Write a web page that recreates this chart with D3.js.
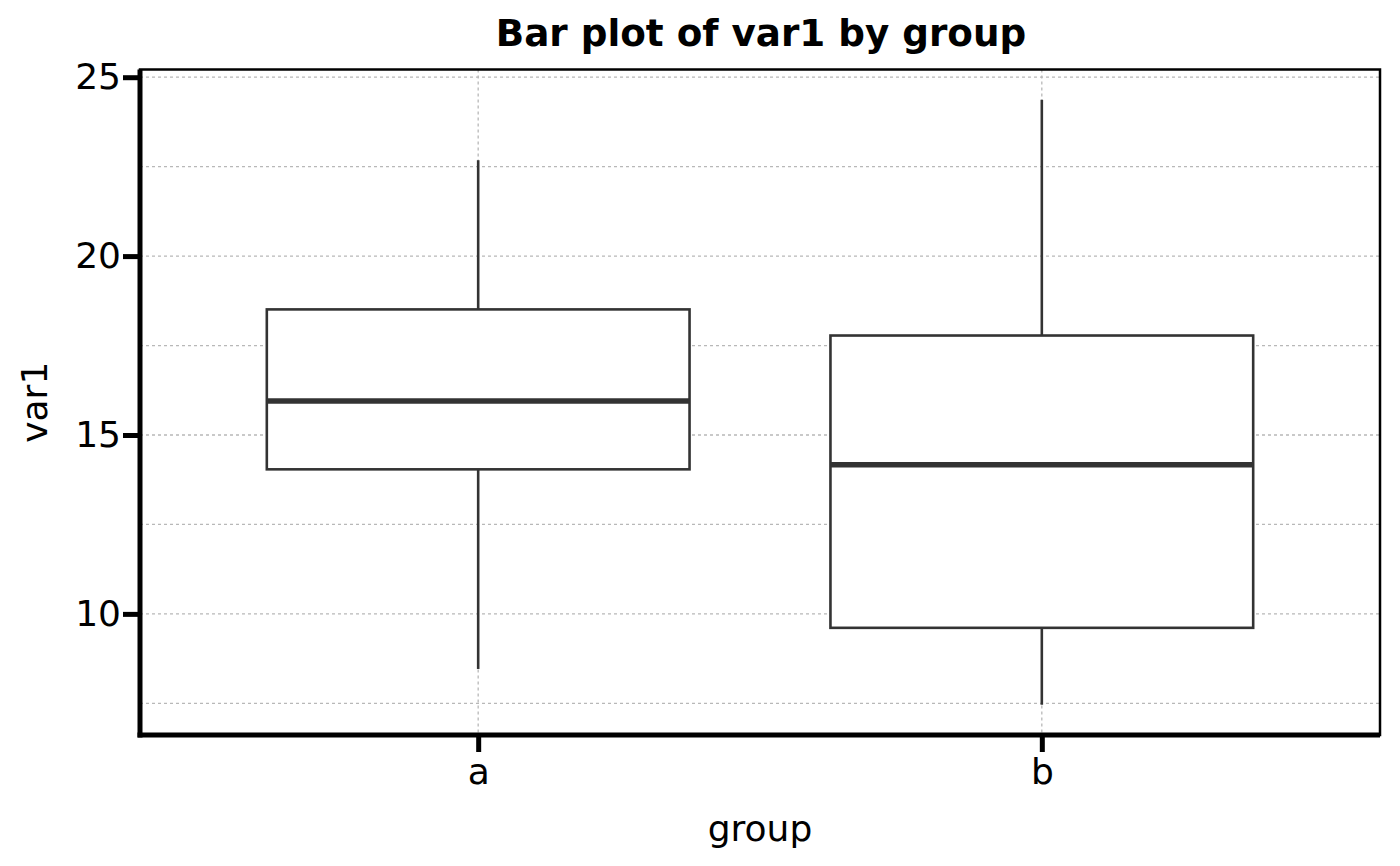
<!DOCTYPE html>
<html>
<head>
<meta charset="utf-8">
<script src="https://cdn.jsdelivr.net/npm/d3@7"></script>
<style>
  html, body { margin: 0; padding: 0; background: #fff; }
  svg text { font-family: "DejaVu Sans", sans-serif; fill: #000; }
</style>
</head>
<body>
<svg id="chart" width="1400" height="866"></svg>
<script>
// ---- data ----
const categories = ["a", "b"];
const whiskerLow = [8.46, 7.46];
const q1 = [14.04, 9.61];
const median = [15.95, 14.17];
const q3 = [18.51, 17.78];
const whiskerHigh = [22.68, 24.37];
const yTicks = [10, 15, 20, 25];
const yMinorTicks = [7.5, 12.5, 17.5, 22.5];
const titleText = "Bar plot of var1 by group";
const xTitle = "group";
const yTitle = "var1";

// ---- layout ----
const W = 1400, H = 866;
const panel = { left: 140, right: 1380, top: 69.5, bottom: 735 };
const svg = d3.select("#chart");

const lo = d3.min(whiskerLow), hi = d3.max(whiskerHigh);
const span = hi - lo;
const y = d3.scaleLinear().domain([lo - 0.05 * span, hi + 0.05 * span]).range([panel.bottom, panel.top]);
const x = d3.scalePoint().domain(categories).range([panel.left, panel.right]).padding(0.6);
const step = x.step();
const boxW = step * 0.75;

// grid
const grid = svg.append("g");
const gridStyle = sel => sel.attr("stroke", "#b8b8b8").attr("stroke-width", 1.3).attr("stroke-dasharray", "3,3").attr("fill", "none");
grid.selectAll("line.hy").data(yTicks.concat(yMinorTicks)).join("line")
  .attr("x1", panel.left).attr("x2", panel.right)
  .attr("y1", d => y(d)).attr("y2", d => y(d)).call(gridStyle);
grid.selectAll("line.vx").data(categories).join("line")
  .attr("x1", d => x(d)).attr("x2", d => x(d))
  .attr("y1", panel.top).attr("y2", panel.bottom).call(gridStyle);

// boxes
const rows = categories.map((c, i) => ({ c, lo: whiskerLow[i], q1: q1[i], med: median[i], q3: q3[i], hi: whiskerHigh[i] }));
const g = svg.append("g");
const col = "#333333";
const lw = 2.6;
g.selectAll("line.wu").data(rows).join("line")
  .attr("x1", d => x(d.c)).attr("x2", d => x(d.c))
  .attr("y1", d => y(d.hi)).attr("y2", d => y(d.q3))
  .attr("stroke", col).attr("stroke-width", lw);
g.selectAll("line.wl").data(rows).join("line")
  .attr("x1", d => x(d.c)).attr("x2", d => x(d.c))
  .attr("y1", d => y(d.q1)).attr("y2", d => y(d.lo))
  .attr("stroke", col).attr("stroke-width", lw);
g.selectAll("rect").data(rows).join("rect")
  .attr("x", d => x(d.c) - boxW / 2).attr("width", boxW)
  .attr("y", d => y(d.q3)).attr("height", d => y(d.q1) - y(d.q3))
  .attr("fill", "#fff").attr("stroke", col).attr("stroke-width", lw);
g.selectAll("line.med").data(rows).join("line")
  .attr("x1", d => x(d.c) - boxW / 2).attr("x2", d => x(d.c) + boxW / 2)
  .attr("y1", d => y(d.med)).attr("y2", d => y(d.med))
  .attr("stroke", col).attr("stroke-width", 5.5);

// panel border
svg.append("rect")
  .attr("x", panel.left).attr("y", panel.top)
  .attr("width", panel.right - panel.left).attr("height", panel.bottom - panel.top)
  .attr("fill", "none").attr("stroke", "#000").attr("stroke-width", 2.5);

// axes
const yAxis = d3.axisLeft(y).tickValues(yTicks).tickSize(17).tickPadding(2).tickFormat(d3.format("d"));
const ya = svg.append("g").attr("transform", `translate(${panel.left},0)`).call(yAxis);
ya.select(".domain").remove();
ya.selectAll(".tick line").attr("stroke", "#000").attr("stroke-width", 5);
ya.selectAll(".tick text").attr("font-size", 36).attr("font-family", "DejaVu Sans").attr("fill", "#000");

const xAxis = d3.axisBottom(x).tickSize(17).tickPadding(6);
const xa = svg.append("g").attr("transform", `translate(0,${panel.bottom})`).call(xAxis);
xa.select(".domain").remove();
xa.selectAll(".tick line").attr("stroke", "#000").attr("stroke-width", 5);
xa.selectAll(".tick text").attr("font-size", 36).attr("font-family", "DejaVu Sans").attr("fill", "#000");

// thick axis lines
svg.append("line").attr("x1", panel.left).attr("x2", panel.left)
  .attr("y1", panel.top).attr("y2", panel.bottom + 2.5)
  .attr("stroke", "#000").attr("stroke-width", 5);
svg.append("line").attr("x1", panel.left - 2.5).attr("x2", panel.right)
  .attr("y1", panel.bottom).attr("y2", panel.bottom)
  .attr("stroke", "#000").attr("stroke-width", 5);

// titles
svg.append("text").attr("x", (panel.left + panel.right) / 2 + 1).attr("y", 46)
  .attr("text-anchor", "middle").attr("font-size", 37.3).attr("font-weight", "bold").text(titleText);
svg.append("text").attr("x", (panel.left + panel.right) / 2).attr("y", 841)
  .attr("text-anchor", "middle").attr("font-size", 36).text(xTitle);
svg.append("text").attr("transform", `translate(47,${(panel.top + panel.bottom) / 2}) rotate(-90)`)
  .attr("text-anchor", "middle").attr("font-size", 36).text(yTitle);
</script>
</body>
</html>
